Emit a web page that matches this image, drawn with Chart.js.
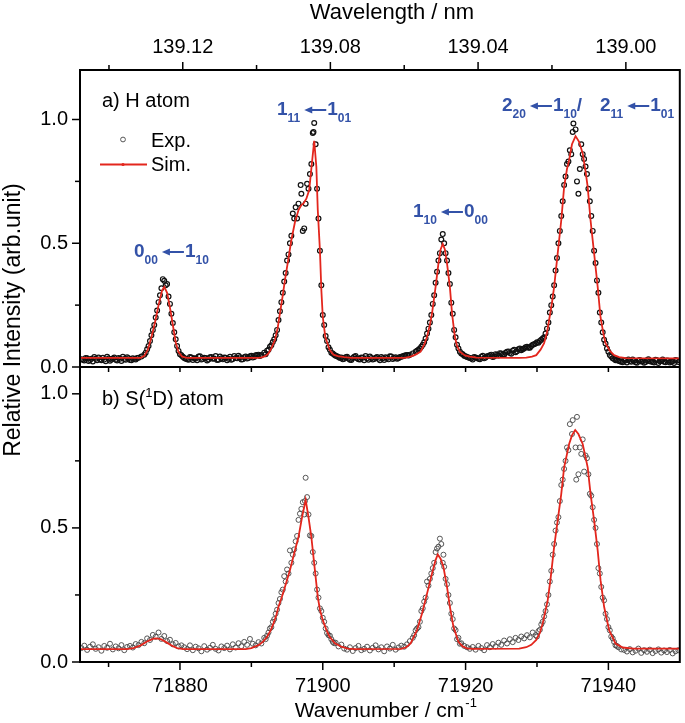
<!DOCTYPE html>
<html><head><meta charset="utf-8">
<script src="https://cdn.jsdelivr.net/npm/chart.js@4.4.0/dist/chart.umd.min.js"></script>
<style>html,body{margin:0;padding:0;background:#fff;overflow:hidden}canvas{display:block}</style>
</head><body>
<canvas id="c" width="685" height="723"></canvas>
<script>
const FONT = "'Liberation Sans', Arial, Helvetica, sans-serif";
const RED = '#e3261d';
const BLUE = '#3352a8';

// ---- tick labels ----
const xMajorTicks = [71880, 71900, 71920, 71940];
const xMinorTicks = [71870, 71890, 71910, 71930];
const wlMajorTicks = [139.12, 139.08, 139.04, 139.00];
const wlMinorTicks = [139.14, 139.10, 139.06, 139.02];
const yMajorTicks = [0, 0.5, 1.0];
const yMinorTicks = [0.25, 0.75];

// ---- a) H atom : experimental ----
const expAX = [71866.2,71866.6,71867.0,71867.4,71867.8,71868.2,71868.6,71869.0,71869.4,71869.8,71870.2,71870.6,71871.0,71871.4,71871.8,71872.2,71872.6,71873.0,71873.4,71873.8,71874.2,
71874.6,71875.0,71875.4,71875.8,71876.2,71876.4,71876.6,71877.0,71877.2,71877.4,71877.6,71877.8,71878.0,71878.2,71878.6,71879.0,71879.4,71879.8,71880.2,
71880.6,71881.0,71881.4,71881.8,71882.2,71882.6,71883.0,71883.4,71883.8,71884.2,71884.6,71885.0,71885.4,71885.8,71886.2,71886.6,71887.0,71887.4,71887.8,71888.2,71888.6,71889.0,71889.4,71889.8,71890.2,71890.6,71891.0,
71891.4,71891.8,71892.2,71892.6,71893.0,71893.4,71893.8,71894.2,71894.6,71895.0,71895.4,71895.8,71896.2,71896.4,71896.6,71896.9,71897.0,71897.2,71897.4,71897.8,71898.2,71898.6,71898.7,71898.8,71899.0,71899.4,71899.8,71900.2,71900.6,71901.0,71901.4,71901.8,71902.2,
71902.6,71903.0,71903.4,71903.8,71904.2,71904.6,71905.0,71905.4,71905.8,71906.2,71906.6,71907.0,71907.4,71907.8,71908.2,71908.6,71909.0,71909.4,71909.8,71910.2,71910.6,71911.0,71911.4,71911.8,
71912.2,71912.6,71913.0,71913.4,71913.8,71914.2,71914.6,71915.0,71915.4,71915.8,71916.2,71916.6,71916.8,71917.0,71917.4,71917.8,71918.2,71918.6,71919.0,71919.4,71919.8,71920.2,
71920.6,71921.0,71921.4,71921.8,71922.2,71922.6,71923.0,71923.4,71923.8,71924.2,71924.6,71925.0,71925.4,71925.8,71926.2,71926.6,71927.0,71927.4,71927.8,
71928.2,71928.6,71929.0,71929.4,71929.8,71930.2,71930.6,71931.0,71931.4,71931.8,71932.2,71932.6,71933.0,71933.4,71933.8,71934.2,71934.6,71934.8,71935.0,71935.1,71935.4,71935.6,71935.8,71936.0,71936.2,71936.6,71937.0,71937.4,71937.8,71938.2,71938.6,71939.0,71939.4,71939.8,71940.2,71940.6,71941.0,
71941.4,71941.8,71942.2,71942.6,71943.0,71943.4,71943.8,71944.2,71944.6,71945.0,71945.4,71945.8,71946.2,71946.6,71947.0,71947.4,71947.8,71948.2,71948.6,71949.0,71949.4,71949.8];
const expAY = [0.031,0.026,0.035,0.028,0.022,0.033,0.038,0.027,0.030,0.041,0.025,0.034,0.029,0.036,0.024,0.032,0.039,0.028,0.035,0.030,0.037,
0.042,0.050,0.072,0.105,0.150,0.170,0.200,0.262,0.290,0.318,0.355,0.348,0.330,0.335,0.255,0.178,0.112,0.065,0.047,
0.036,0.031,0.040,0.028,0.034,0.042,0.030,0.037,0.026,0.039,0.033,0.044,0.029,0.035,0.038,0.027,0.041,0.032,0.036,0.045,0.030,0.039,0.034,0.043,0.038,0.047,0.050,
0.048,0.058,0.066,0.082,0.101,0.128,0.190,0.262,0.345,0.430,0.500,0.620,0.645,0.600,0.660,0.735,0.700,0.550,0.560,0.740,0.780,0.945,0.950,0.986,0.900,0.600,0.330,0.170,0.105,0.070,0.055,0.045,0.040,
0.038,0.033,0.041,0.029,0.036,0.044,0.031,0.038,0.027,0.035,0.042,0.030,0.037,0.033,0.040,0.028,0.036,0.043,0.032,0.039,0.035,0.041,0.045,0.048,
0.050,0.055,0.062,0.070,0.082,0.100,0.135,0.180,0.255,0.340,0.430,0.515,0.537,0.500,0.430,0.335,0.215,0.120,0.075,0.055,0.045,0.040,
0.036,0.030,0.038,0.033,0.041,0.035,0.043,0.047,0.040,0.052,0.046,0.055,0.050,0.062,0.057,0.066,0.060,0.072,0.068,
0.075,0.082,0.078,0.090,0.095,0.098,0.110,0.120,0.155,0.220,0.285,0.390,0.500,0.610,0.735,0.820,0.876,0.860,0.950,0.984,0.960,0.750,0.700,0.800,0.900,0.840,0.780,0.670,0.550,0.420,0.300,0.180,0.110,0.075,0.048,0.035,0.027,
0.025,0.021,0.028,0.018,0.024,0.030,0.019,0.026,0.022,0.017,0.027,0.023,0.020,0.029,0.016,0.024,0.021,0.026,0.018,0.023,0.028,0.020];
// second sweep (interleaved points)
const expAX2 = [71866.4,71866.8,71867.2,71867.6,71868.0,71868.4,71868.8,71869.2,71869.6,71870.0,71870.4,71870.8,71871.2,71871.6,71872.0,71872.4,71872.8,71873.2,71873.6,71874.0,
71875.2,71875.6,71876.0,71876.8,71878.4,71878.8,71879.2,71879.6,71880.0,
71880.4,71880.8,71881.2,71881.6,71882.0,71882.4,71882.8,71883.2,71883.6,71884.0,71884.4,71884.8,71885.2,71885.6,71886.0,71886.4,71886.8,71887.2,71887.6,71888.0,71888.4,71888.8,71889.2,71889.6,71890.0,71890.4,71890.8,71891.2,
71892.0,71892.4,71892.8,71893.2,71893.6,71894.0,71894.4,71894.8,71895.2,71895.6,71896.0,71897.6,71898.0,71898.4,71899.2,71899.6,71900.0,71900.4,71900.8,71901.2,
71901.6,71902.0,71902.4,71902.8,71903.2,71903.6,71904.0,71904.4,71904.8,71905.2,71905.6,71906.0,71906.4,71906.8,71907.2,71907.6,71908.0,71908.4,71908.8,71909.2,71909.6,71910.0,71910.4,71910.8,71911.2,71911.6,71912.0,
71913.2,71913.6,71914.0,71914.4,71914.8,71915.2,71915.6,71916.0,71916.4,71917.2,71917.6,71918.0,71918.4,71918.8,71919.2,
71919.6,71920.0,71920.4,71920.8,71921.2,71921.6,71922.0,71922.4,71922.8,71923.2,71923.6,71924.0,71924.4,71924.8,71925.2,71925.6,71926.0,71926.4,71926.8,71927.2,71927.6,71928.0,71928.4,71928.8,
71929.2,71929.6,71930.0,71930.4,71930.8,71931.2,71931.6,71932.0,71932.4,71932.8,71933.2,71933.6,71934.0,71934.4,71936.4,71936.8,71937.2,71937.6,71938.0,71938.4,71938.8,71939.2,71939.6,71940.0,71940.4,71940.8,
71941.2,71941.6,71942.0,71942.4,71942.8,71943.2,71943.6,71944.0,71944.4,71944.8,71945.2,71945.6,71946.0,71946.4,71946.8,71947.2,71947.6,71948.0,71948.4,71948.8,71949.2,71949.6];
const expAY2 = [0.029,0.036,0.024,0.033,0.040,0.027,0.031,0.037,0.023,0.034,0.030,0.038,0.026,0.033,0.041,0.029,0.035,0.027,0.032,0.036,
0.058,0.085,0.128,0.228,0.285,0.215,0.140,0.085,0.052,
0.041,0.033,0.029,0.038,0.035,0.027,0.043,0.032,0.036,0.030,0.040,0.034,0.028,0.042,0.031,0.037,0.033,0.029,0.044,0.035,0.039,0.031,0.042,0.036,0.045,0.040,0.048,0.044,
0.052,0.070,0.088,0.112,0.150,0.225,0.300,0.380,0.455,0.530,0.600,0.660,0.720,0.820,0.720,0.470,0.210,0.125,0.080,0.058,
0.050,0.043,0.036,0.031,0.039,0.034,0.028,0.041,0.035,0.030,0.037,0.044,0.029,0.036,0.032,0.040,0.027,0.035,0.039,0.031,0.042,0.036,0.033,0.040,0.043,0.047,0.046,
0.066,0.075,0.090,0.115,0.155,0.210,0.290,0.385,0.460,0.460,0.380,0.260,0.150,0.090,0.062,
0.052,0.043,0.038,0.034,0.040,0.036,0.031,0.045,0.038,0.044,0.050,0.042,0.049,0.056,0.051,0.058,0.063,0.054,0.070,0.064,0.075,0.072,0.080,0.078,
0.085,0.092,0.100,0.105,0.115,0.135,0.180,0.250,0.330,0.440,0.550,0.670,0.770,0.830,0.860,0.810,0.720,0.610,0.470,0.350,0.220,0.140,0.095,0.062,0.042,0.032,
0.029,0.023,0.019,0.026,0.030,0.021,0.025,0.017,0.028,0.024,0.020,0.031,0.022,0.018,0.027,0.023,0.030,0.019,0.025,0.022,0.016,0.026];

// ---- a) H atom : simulation ----
const simAX = [71866.0,71874.5,71875.0,71875.5,71876.0,71876.5,71877.0,71877.5,71877.8,71878.2,71878.6,71879.0,71879.4,71879.8,71880.3,71881.0,
71891.0,71891.5,71892.0,71892.4,71892.8,71893.3,71893.7,71894.0,71894.4,71894.7,71895.2,71895.6,71896.1,71896.6,71897.0,71897.3,71897.7,71898.1,71898.5,71898.8,71899.1,71899.3,71899.6,71899.8,71900.0,71900.35,71900.95,71901.5,71902.1,71903.0,71904.0,
71911.5,71912.3,71913.0,71913.7,71914.2,71914.6,71915.0,71915.3,71915.8,71916.2,71916.5,71916.8,71917.1,71917.4,71917.8,71918.1,71918.5,71918.8,71919.2,71919.9,71920.6,71921.5,
71927.5,71928.5,71929.3,71929.9,71930.5,71931.0,71931.4,71931.7,71932.1,71932.4,71932.9,71933.4,71933.8,71934.2,71934.5,71934.9,71935.4,71935.9,71936.4,71936.8,71937.1,71937.5,71938.0,71938.5,71938.9,71939.3,71939.6,71940.2,71940.8,71941.5,71942.5,71950.0];
const simAY = [0.037,0.037,0.045,0.070,0.120,0.180,0.250,0.310,0.324,0.300,0.240,0.170,0.100,0.060,0.042,0.037,
0.037,0.039,0.045,0.055,0.075,0.109,0.160,0.217,0.290,0.351,0.440,0.513,0.585,0.634,0.654,0.661,0.680,0.715,0.830,0.914,0.809,0.634,0.472,0.311,0.203,0.122,0.069,0.050,0.044,0.040,0.037,
0.037,0.042,0.050,0.062,0.090,0.122,0.170,0.217,0.324,0.419,0.475,0.497,0.475,0.419,0.324,0.217,0.122,0.085,0.062,0.047,0.042,0.038,
0.037,0.038,0.042,0.048,0.070,0.096,0.140,0.190,0.260,0.324,0.459,0.593,0.728,0.800,0.836,0.900,0.933,0.910,0.863,0.790,0.728,0.593,0.459,0.324,0.200,0.135,0.096,0.065,0.048,0.040,0.036,0.035];

// ---- b) S(1D) atom : experimental ----
const expBX = [71866.2,71866.6,71867.0,71867.4,71867.8,71868.2,71868.6,71869.0,71869.4,71869.8,71870.2,71870.6,71871.0,71871.4,71871.8,71872.2,71872.6,
71873.0,71873.4,71873.8,71874.2,71874.6,71875.0,71875.4,71875.8,71876.2,71876.6,71877.0,71877.4,71877.8,71878.2,71878.6,71879.0,71879.4,71879.8,71880.2,
71880.6,71881.0,71881.4,71881.8,71882.2,71882.6,71883.0,71883.4,71883.8,71884.2,71884.6,71885.0,71885.4,71885.8,71886.2,71886.6,71887.0,71887.4,71887.8,71888.2,71888.6,71889.0,71889.4,71889.8,
71890.2,71890.6,71891.0,71891.4,71891.8,71892.2,71892.6,71893.0,71893.4,71893.8,71894.2,71894.6,71895.0,71895.4,71895.8,71896.2,71896.6,71896.8,71897.0,71897.2,71897.4,71897.5,71897.6,71897.8,71898.2,71898.6,71899.0,71899.4,71899.8,71900.2,71900.6,71901.0,71901.4,71901.8,71902.2,71902.6,71903.0,
71903.4,71903.8,71904.2,71904.6,71905.0,71905.4,71905.8,71906.2,71906.6,71907.0,71907.4,71907.8,71908.2,71908.6,71909.0,71909.4,71909.8,71910.2,71910.6,71911.0,71911.4,71911.8,
71912.2,71912.6,71913.0,71913.4,71913.8,71914.2,71914.6,71915.0,71915.4,71915.8,71916.0,71916.2,71916.4,71916.6,71916.9,71917.0,71917.4,71917.8,71918.2,71918.6,71919.0,71919.4,71919.8,71920.2,
71920.6,71921.0,71921.4,71921.8,71922.2,71922.6,71923.0,71923.4,71923.8,71924.2,71924.6,71925.0,71925.4,71925.8,71926.2,71926.6,71927.0,71927.4,71927.8,
71928.2,71928.6,71929.0,71929.4,71929.8,71930.2,71930.6,71931.0,71931.4,71931.8,71932.2,71932.6,71933.0,71933.4,71933.8,71934.2,71934.6,71934.9,71935.0,71935.4,71935.5,71935.6,71935.8,71936.0,71936.2,71936.6,71937.0,71937.4,71937.8,71938.2,71938.6,71939.0,71939.4,71939.8,71940.2,71940.6,71941.0,71941.4,71941.8,
71942.2,71942.6,71943.0,71943.4,71943.8,71944.2,71944.6,71945.0,71945.4,71945.8,71946.2,71946.6,71947.0,71947.4,71947.8,71948.2,71948.6,71949.0,71949.4,71949.8];
const expBY = [0.052,0.061,0.045,0.057,0.066,0.049,0.055,0.042,0.060,0.053,0.068,0.047,0.058,0.051,0.063,0.044,0.056,
0.060,0.054,0.067,0.063,0.075,0.070,0.088,0.082,0.101,0.094,0.110,0.086,0.097,0.078,0.083,0.066,0.071,0.058,0.062,
0.055,0.048,0.062,0.044,0.057,0.051,0.040,0.059,0.046,0.053,0.064,0.049,0.043,0.058,0.052,0.061,0.047,0.066,0.054,0.070,0.059,0.075,0.064,0.086,
0.068,0.062,0.074,0.069,0.090,0.098,0.125,0.150,0.180,0.220,0.260,0.320,0.345,0.416,0.400,0.450,0.530,0.553,0.571,0.596,0.550,0.600,0.687,0.615,0.472,0.410,0.330,0.240,0.190,0.150,0.108,0.098,0.075,0.072,0.058,0.065,0.050,
0.046,0.055,0.041,0.052,0.060,0.044,0.049,0.057,0.043,0.053,0.062,0.047,0.055,0.040,0.058,0.050,0.064,0.046,0.054,0.061,0.057,0.066,
0.078,0.090,0.118,0.130,0.190,0.225,0.300,0.310,0.350,0.410,0.423,0.430,0.460,0.440,0.400,0.355,0.290,0.220,0.160,0.119,0.090,0.070,0.060,0.055,
0.049,0.056,0.046,0.060,0.052,0.044,0.063,0.055,0.067,0.058,0.072,0.064,0.080,0.069,0.085,0.074,0.090,0.082,0.095,
0.088,0.100,0.092,0.110,0.100,0.115,0.140,0.170,0.215,0.300,0.400,0.490,0.540,0.660,0.720,0.800,0.887,0.850,0.902,0.800,0.680,0.914,0.700,0.800,0.776,0.710,0.760,0.627,0.577,0.500,0.350,0.280,0.230,0.160,0.118,0.088,0.062,0.055,0.047,
0.045,0.039,0.048,0.036,0.042,0.050,0.034,0.044,0.038,0.046,0.033,0.041,0.047,0.035,0.043,0.037,0.045,0.032,0.040,0.044];
// second sweep on the peak flanks
const expBX2 = [71892.0,71892.4,71892.8,71893.2,71893.6,71894.0,71894.4,71894.8,71895.2,71895.6,71896.0,71896.4,71898.0,71898.4,71898.8,71899.2,71899.6,71900.0,71900.4,71900.8,71901.2,71901.6,
71912.8,71913.2,71913.6,71914.0,71914.4,71914.8,71915.2,71915.6,71916.8,71917.2,71917.6,71918.0,71918.4,71918.8,71919.2,
71930.0,71930.4,71930.8,71931.2,71931.6,71932.0,71932.4,71932.8,71933.2,71933.6,71934.0,71934.4,71936.4,71936.8,71937.2,71937.6,71938.0,71938.4,71938.8,71939.2,71939.6,71940.0,71940.4,71940.8,71941.2];
const expBY2 = [0.085,0.110,0.130,0.160,0.195,0.235,0.270,0.300,0.330,0.370,0.420,0.470,0.550,0.470,0.370,0.270,0.200,0.165,0.125,0.100,0.085,0.070,
0.100,0.125,0.150,0.200,0.240,0.285,0.330,0.370,0.370,0.310,0.250,0.180,0.125,0.085,0.068,
0.095,0.120,0.150,0.190,0.250,0.340,0.440,0.520,0.600,0.680,0.750,0.790,0.830,0.770,0.700,0.620,0.530,0.440,0.330,0.240,0.180,0.130,0.095,0.075,0.060];

// ---- b) S(1D) atom : simulation ----
const simBX = [71866.0,71872.5,71873.5,71874.5,71875.5,71876.3,71876.7,71877.3,71878.0,71878.8,71879.6,71880.5,
71889.2,71890.0,71891.0,71891.6,71892.2,71892.7,71893.1,71893.5,71893.8,71894.3,71894.7,71895.4,71896.1,71896.6,71897.1,71897.6,71898.0,71898.4,71898.9,71899.3,71899.6,71900.0,71900.5,71900.95,71901.7,71902.6,71903.5,71904.5,
71911.0,71911.7,71912.3,71913.2,71913.9,71914.6,71915.3,71915.8,71916.1,71916.5,71916.9,71917.4,71917.8,71918.3,71919.0,71919.6,71920.2,71921.0,
71927.5,71928.5,71929.2,71929.9,71930.4,71930.8,71931.5,71931.9,71932.4,71932.9,71933.4,71933.8,71934.5,71934.9,71935.35,71935.8,71936.4,71937.1,71937.5,71938.0,71938.5,71938.9,71939.4,71940.1,71941.0,71942.0,71943.5,71950.0];
const simBY = [0.048,0.048,0.052,0.062,0.078,0.087,0.088,0.085,0.075,0.062,0.052,0.048,
0.048,0.052,0.063,0.075,0.094,0.118,0.144,0.175,0.206,0.245,0.280,0.342,0.416,0.466,0.540,0.605,0.540,0.466,0.342,0.243,0.195,0.156,0.120,0.094,0.070,0.057,0.050,0.048,
0.049,0.055,0.069,0.119,0.181,0.255,0.330,0.380,0.401,0.385,0.354,0.280,0.206,0.131,0.075,0.058,0.051,0.049,
0.050,0.055,0.064,0.082,0.108,0.144,0.230,0.310,0.429,0.528,0.627,0.726,0.813,0.845,0.865,0.850,0.813,0.726,0.627,0.528,0.416,0.305,0.206,0.119,0.069,0.054,0.050,0.050];

const pts = (xs, ys) => xs.map((x, i) => ({x: x, y: ys[i]}));

function seg(ctx, x1, y1, x2, y2) { ctx.beginPath(); ctx.moveTo(x1, y1); ctx.lineTo(x2, y2); ctx.stroke(); }

function arrow(ctx, xTail, xHead, y) {
  ctx.save();
  ctx.strokeStyle = BLUE; ctx.fillStyle = BLUE; ctx.lineWidth = 2;
  seg(ctx, xTail, y, xHead + 5, y);
  ctx.beginPath(); ctx.moveTo(xHead, y); ctx.lineTo(xHead + 8, y - 3.5); ctx.lineTo(xHead + 8, y + 3.5); ctx.closePath(); ctx.fill();
  ctx.restore();
}

// draws  A_sub <- B_sub  starting at x, big-digit baseline y; returns end x
function transition(ctx, x, y, a, aSub, b, bSub) {
  ctx.fillStyle = BLUE; ctx.textAlign = 'left'; ctx.textBaseline = 'alphabetic';
  ctx.font = 'bold 19px ' + FONT; ctx.fillText(a, x, y); let cx = x + ctx.measureText(a).width;
  ctx.font = 'bold 12px ' + FONT; ctx.fillText(aSub, cx, y + 7); cx += ctx.measureText(aSub).width + 4;
  arrow(ctx, cx + 22, cx, y - 5); cx += 23;
  ctx.font = 'bold 19px ' + FONT; ctx.fillText(b, cx, y); cx += ctx.measureText(b).width;
  ctx.font = 'bold 12px ' + FONT; ctx.fillText(bSub, cx, y + 7); cx += ctx.measureText(bSub).width;
  return cx;
}

const overlay = {
  id: 'overlay',
  afterDraw(chart) {
    const ctx = chart.ctx;
    const ca = chart.chartArea;
    const xs = chart.scales.x, x2 = chart.scales.x2, ya = chart.scales.ya, yb = chart.scales.yb;
    const mid = ya.bottom;
    ctx.save();
    ctx.strokeStyle = '#000'; ctx.lineWidth = 2;
    ctx.strokeRect(ca.left, ca.top, ca.right - ca.left, ca.bottom - ca.top);
    seg(ctx, ca.left, mid, ca.right, mid);
    ctx.lineWidth = 1.5;
    xMajorTicks.forEach(v => { const p = xs.getPixelForValue(v); seg(ctx, p, ca.bottom, p, ca.bottom + 8); seg(ctx, p, mid, p, mid + 5); });
    xMinorTicks.forEach(v => { const p = xs.getPixelForValue(v); seg(ctx, p, ca.bottom, p, ca.bottom + 5); seg(ctx, p, mid, p, mid + 5); });
    wlMajorTicks.forEach(w => { const p = x2.getPixelForValue(1e7 / w); seg(ctx, p, ca.top, p, ca.top - 8); });
    wlMinorTicks.forEach(w => { const p = x2.getPixelForValue(1e7 / w); seg(ctx, p, ca.top, p, ca.top - 5); });
    [ya, yb].forEach(s => {
      yMajorTicks.forEach(v => { const p = s.getPixelForValue(v); seg(ctx, ca.left, p, ca.left - 8, p); });
      yMinorTicks.forEach(v => { const p = s.getPixelForValue(v); seg(ctx, ca.left, p, ca.left - 5, p); });
    });

    // axis titles
    ctx.fillStyle = '#000'; ctx.textBaseline = 'alphabetic';
    ctx.font = '22px ' + FONT; ctx.textAlign = 'center';
    ctx.fillText('Wavelength / nm', 392, 19);
    ctx.font = '21px ' + FONT; ctx.textAlign = 'left';
    const t = 'Wavenumber / cm';
    const tw = ctx.measureText(t).width;
    const tx = 384 - (tw + 9) / 2;
    ctx.fillText(t, tx, 717);
    ctx.font = '13px ' + FONT; ctx.fillText('-1', tx + tw + 1, 707);
    ctx.save();
    ctx.translate(20, 320); ctx.rotate(-Math.PI / 2);
    ctx.font = '23px ' + FONT; ctx.textAlign = 'center';
    ctx.fillText('Relative Intensity (arb.unit)', 0, 0);
    ctx.restore();

    // panel labels
    ctx.font = '20px ' + FONT; ctx.textAlign = 'left';
    ctx.fillText('a) H atom', 102, 107);
    let bx = 102;
    ctx.fillText('b) S(', bx, 405); bx += ctx.measureText('b) S(').width;
    ctx.font = '13px ' + FONT; ctx.fillText('1', bx, 397); bx += ctx.measureText('1').width;
    ctx.font = '20px ' + FONT; ctx.fillText('D) atom', bx, 405);

    // legend
    ctx.strokeStyle = '#555'; ctx.lineWidth = 1;
    ctx.beginPath(); ctx.arc(123, 139.5, 2.4, 0, Math.PI * 2); ctx.stroke();
    ctx.fillStyle = '#000'; ctx.font = '20px ' + FONT;
    ctx.fillText('Exp.', 151, 147);
    ctx.strokeStyle = RED; ctx.lineWidth = 1.8;
    seg(ctx, 100, 164.5, 147, 164.5);
    ctx.fillStyle = RED; ctx.beginPath(); ctx.arc(123, 164.5, 1.6, 0, Math.PI * 2); ctx.fill();
    ctx.fillStyle = '#000';
    ctx.fillText('Sim.', 151, 171);

    // transition labels
    transition(ctx, 134, 257, '0', '00', '1', '10');
    transition(ctx, 277, 115, '1', '11', '1', '01');
    transition(ctx, 413, 217, '1', '10', '0', '00');
    let ex = transition(ctx, 502, 111, '2', '20', '1', '10');
    ctx.font = 'bold 19px ' + FONT; ctx.fillStyle = BLUE; ctx.fillText('/', ex, 111);
    transition(ctx, 600, 111, '2', '11', '1', '01');
    ctx.restore();
  }
};

const tickFont = {family: FONT, size: 20};
const yAxis = (weight, stackWeight, max) => ({
  type: 'linear', position: 'left', stack: 'panels', stackWeight: stackWeight, weight: weight,
  min: 0, max: max,
  grid: {display: false, drawTicks: false}, border: {display: false},
  ticks: {font: tickFont, color: '#000', padding: 12, callback: v => Number(v).toFixed(1)},
  afterBuildTicks: s => { s.ticks = yMajorTicks.map(v => ({value: v})); },
  afterFit: s => { s.width = 80; }
});

new Chart(document.getElementById('c'), {
  type: 'scatter',
  data: {
    datasets: [
      {label: 'Sim. a', data: pts(simAX, simAY), xAxisID: 'x', yAxisID: 'ya', showLine: true, borderColor: RED, borderWidth: 1.8, pointRadius: 0, tension: 0, order: 0},
      {label: 'Sim. b', data: pts(simBX, simBY), xAxisID: 'x', yAxisID: 'yb', showLine: true, borderColor: RED, borderWidth: 1.8, pointRadius: 0, tension: 0, order: 0},
      {label: 'Exp. a', data: pts(expAX.concat(expAX2), expAY.concat(expAY2)), xAxisID: 'x', yAxisID: 'ya', showLine: false, pointRadius: 2.4, pointBorderWidth: 1.2, pointBorderColor: '#111', pointBackgroundColor: 'rgba(0,0,0,0)', order: 1},
      {label: 'Exp. b', data: pts(expBX.concat(expBX2), expBY.concat(expBY2)), xAxisID: 'x', yAxisID: 'yb', showLine: false, pointRadius: 2.5, pointBorderWidth: 0.9, pointBorderColor: '#444', pointBackgroundColor: 'rgba(0,0,0,0)', order: 1}
    ]
  },
  options: {
    responsive: false, animation: false, devicePixelRatio: 1,
    layout: {padding: {left: 0, right: 1, top: 0, bottom: 0}},
    plugins: {legend: {display: false}, tooltip: {enabled: false}},
    scales: {
      x: {
        type: 'linear', position: 'bottom', min: 71866, max: 71950,
        grid: {display: false, drawTicks: false}, border: {display: false},
        ticks: {font: tickFont, color: '#000', padding: 12, autoSkip: false, maxRotation: 0, callback: v => String(v)},
        afterBuildTicks: s => { s.ticks = xMajorTicks.map(v => ({value: v})); },
        afterFit: s => { s.height = 61; }
      },
      x2: {
        type: 'linear', position: 'top', min: 71866, max: 71950,
        grid: {display: false, drawTicks: false}, border: {display: false},
        ticks: {font: tickFont, color: '#000', padding: 11, autoSkip: false, maxRotation: 0, callback: v => (1e7 / v).toFixed(2)},
        afterBuildTicks: s => { s.ticks = wlMajorTicks.map(w => ({value: 1e7 / w})); },
        afterFit: s => { s.height = 70; }
      },
      ya: yAxis(2, 297, 1.2),
      yb: yAxis(1, 295, 1.1)
    }
  },
  plugins: [overlay]
});
</script>
</body></html>
